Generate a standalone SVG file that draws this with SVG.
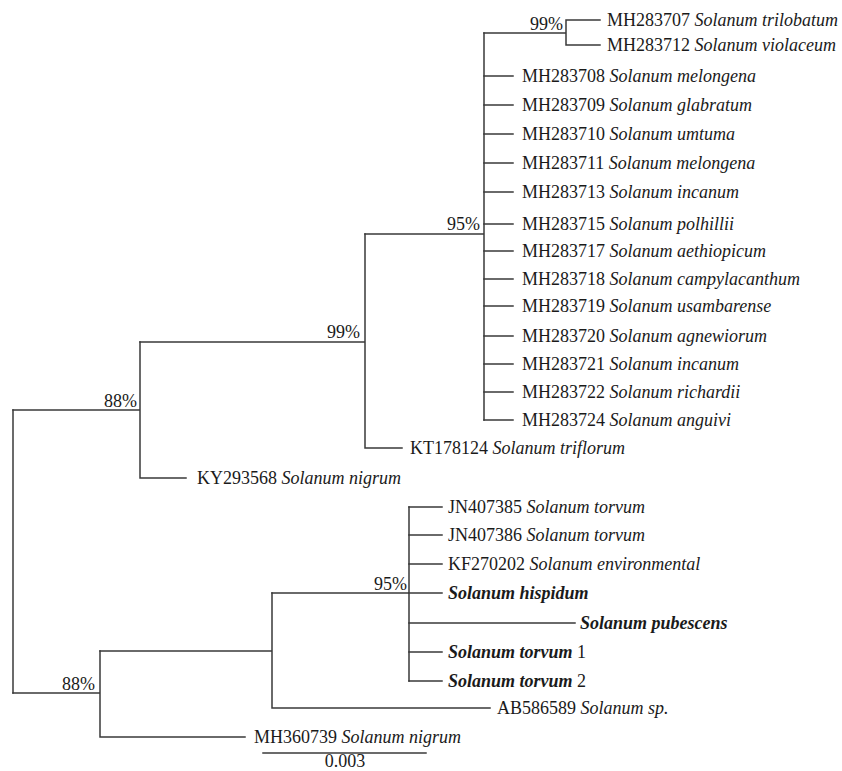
<svg xmlns="http://www.w3.org/2000/svg" width="842" height="771" viewBox="0 0 842 771">
<style>
  .br { fill: none; stroke: #3a3a3a; stroke-width: 1.5; stroke-linecap: square; }
  text { font-family: "Liberation Serif", "Times New Roman", serif; font-size: 18px; fill: #1a1a1a; }
  .sp { font-style: italic; }
  .bsp { font-style: italic; font-weight: bold; }
  .bs { text-anchor: end; }
</style>
<rect width="842" height="771" fill="#ffffff"/>
<g id="connectors">
  <path class="br" d="M13,410 V693"/>
  <path class="br" d="M13,410 H140 M140,342 V478 M140,478 H186"/>
  <path class="br" d="M140,342 H365 M365,234 V448 M365,448 H402"/>
  <path class="br" d="M365,234 H484 M484,33 V420"/>
  <path class="br" d="M484,33 H566 M566,20 V45 M566,20 H600 M566,45 H600"/>
  <path class="br" d="M484,76 H513 M484,105 H513 M484,134 H513 M484,163 H513 M484,192 H513 M484,224 H513 M484,251 H513 M484,279 H513 M484,306 H513 M484,336 H513 M484,364 H513 M484,392 H513 M484,420 H513"/>
  <path class="br" d="M13,693 H100 M100,651 V737 M100,737 H245"/>
  <path class="br" d="M100,651 H272 M272,593 V708 M272,708 H490"/>
  <path class="br" d="M272,593 H409 M409,507 V681"/>
  <path class="br" d="M409,507 H442 M409,535 H442 M409,564 H442 M409,593 H442 M409,623 H575 M409,652 H442 M409,681 H442"/>
</g>
<g id="support">
  <text id="s99a" class="bs" x="563" y="30">99%</text>
  <text id="s95a" class="bs" x="480" y="230">95%</text>
  <text id="s99b" class="bs" x="360" y="338">99%</text>
  <text id="s88a" class="bs" x="137" y="407">88%</text>
  <text id="s95b" class="bs" x="407" y="590">95%</text>
  <text id="s88b" class="bs" x="95" y="690">88%</text>
</g>
<g id="n-MH283707"><text x="607" y="26">MH283707 <tspan class="sp">Solanum trilobatum</tspan></text></g>
<g id="n-MH283712"><text x="607" y="51">MH283712 <tspan class="sp">Solanum violaceum</tspan></text></g>
<g id="n-MH283708"><text x="522" y="82">MH283708 <tspan class="sp">Solanum melongena</tspan></text></g>
<g id="n-MH283709"><text x="522" y="111">MH283709 <tspan class="sp">Solanum glabratum</tspan></text></g>
<g id="n-MH283710"><text x="522" y="140">MH283710 <tspan class="sp">Solanum umtuma</tspan></text></g>
<g id="n-MH283711"><text x="522" y="169">MH283711 <tspan class="sp">Solanum melongena</tspan></text></g>
<g id="n-MH283713"><text x="522" y="198">MH283713 <tspan class="sp">Solanum incanum</tspan></text></g>
<g id="n-MH283715"><text x="522" y="230">MH283715 <tspan class="sp">Solanum polhillii</tspan></text></g>
<g id="n-MH283717"><text x="522" y="257">MH283717 <tspan class="sp">Solanum aethiopicum</tspan></text></g>
<g id="n-MH283718"><text x="522" y="285">MH283718 <tspan class="sp">Solanum campylacanthum</tspan></text></g>
<g id="n-MH283719"><text x="522" y="312">MH283719 <tspan class="sp">Solanum usambarense</tspan></text></g>
<g id="n-MH283720"><text x="522" y="342">MH283720 <tspan class="sp">Solanum agnewiorum</tspan></text></g>
<g id="n-MH283721"><text x="522" y="370">MH283721 <tspan class="sp">Solanum incanum</tspan></text></g>
<g id="n-MH283722"><text x="522" y="398">MH283722 <tspan class="sp">Solanum richardii</tspan></text></g>
<g id="n-MH283724"><text x="522" y="426">MH283724 <tspan class="sp">Solanum anguivi</tspan></text></g>
<g id="n-KT178124"><text x="410" y="454">KT178124 <tspan class="sp">Solanum triflorum</tspan></text></g>
<g id="n-KY293568"><text x="197" y="484">KY293568 <tspan class="sp">Solanum nigrum</tspan></text></g>
<g id="n-JN407385"><text x="448" y="513">JN407385 <tspan class="sp">Solanum torvum</tspan></text></g>
<g id="n-JN407386"><text x="448" y="541">JN407386 <tspan class="sp">Solanum torvum</tspan></text></g>
<g id="n-KF270202"><text x="448" y="570">KF270202 <tspan class="sp">Solanum environmental</tspan></text></g>
<g id="n-hispidum"><text x="448" y="599" class="bsp">Solanum hispidum</text></g>
<g id="n-pubescens"><text x="580" y="629" class="bsp">Solanum pubescens</text></g>
<g id="n-torvum1"><text x="448" y="658"><tspan class="bsp">Solanum torvum</tspan> 1</text></g>
<g id="n-torvum2"><text x="448" y="687"><tspan class="bsp">Solanum torvum</tspan> 2</text></g>
<g id="n-AB586589"><text x="497" y="714">AB586589 <tspan class="sp">Solanum sp.</tspan></text></g>
<g id="n-MH360739"><text x="254" y="743">MH360739 <tspan class="sp">Solanum nigrum</tspan></text></g>
<g id="scale">
  <path class="br" d="M263,753 H426"/>
  <text x="345" y="767" text-anchor="middle">0.003</text>
</g>
</svg>
